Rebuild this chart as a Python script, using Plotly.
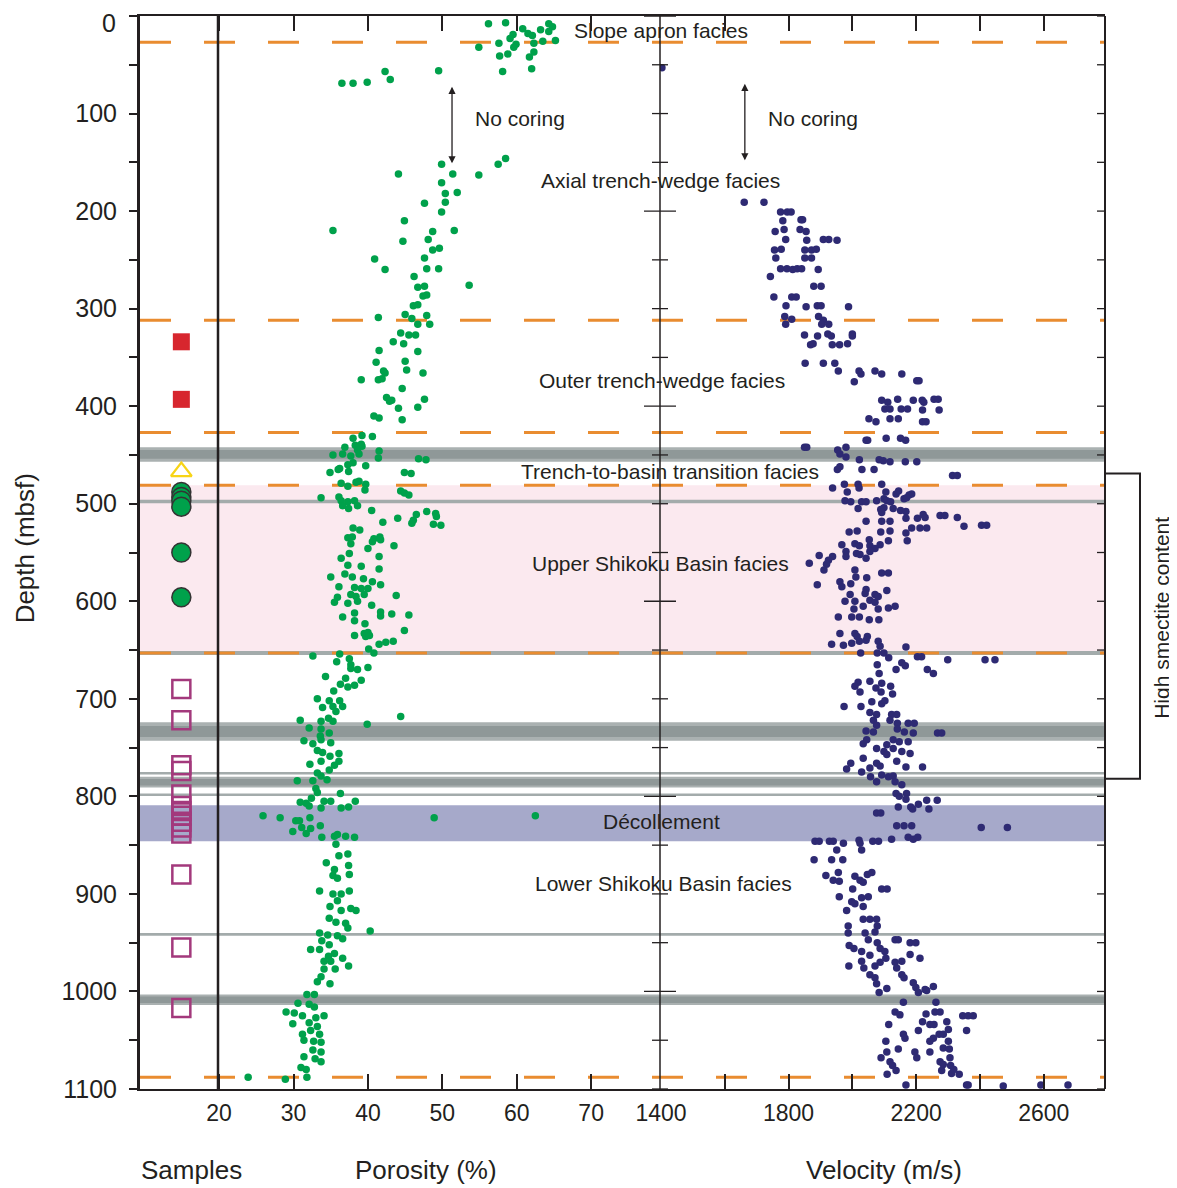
import plotly.graph_objects as go

# ---------------- data ----------------
por_depth = [
    8, 7, 13, 18, 20, 14, 8, 11, 16, 19, 23, 28, 29, 32, 32, 28, 26, 25, 37, 42, 39, 41, 54, 57, 56, 69, 69, 68, 57, 65,
    152, 162, 162, 163, 152, 146, 171, 182, 181, 191, 192, 201, 210, 220, 221, 220, 231, 229, 240, 238, 249, 248, 260, 259,
    259, 267, 276, 278, 277, 287, 286, 297, 296, 309, 306, 310, 307, 316, 316, 325, 327, 327, 334, 336, 343, 344, 355, 354,
    363, 364, 366, 366, 373, 373, 372, 382, 391, 395, 394, 393, 402, 401, 410, 412, 414, 433, 430, 431, 442, 440, 439, 441,
    445, 449, 449, 450, 451, 446, 453, 454, 455, 458, 460, 461, 464, 465, 467, 468, 468, 469, 479, 482, 478, 477, 480, 486,
    487, 489, 491, 494, 493, 497, 498, 497, 502, 505, 502, 507, 519, 515, 520, 511, 517, 508, 510, 513, 521, 522, 525, 527,
    535, 534, 536, 534,
    541, 546, 539, 537, 543, 554, 556, 551, 563, 564, 567, 575, 572, 575, 577, 580, 583, 585, 586, 587, 587, 594, 595, 593,
    593, 596, 601, 602, 600, 604, 611, 615, 613, 614, 612, 616, 620, 623, 630, 635, 633, 632, 636, 635, 644, 642, 641, 649,
    653, 656, 654, 662, 659, 665, 670, 669, 668, 677, 679, 681, 685, 686, 688, 692, 700, 702, 702, 709, 708, 708, 713, 718,
    722, 723, 720, 723, 726, 730, 731, 735, 738, 743, 746, 742, 745, 753, 755, 756, 759, 764, 764, 767, 768, 773, 776, 779,
    784, 784, 783, 792, 796, 797, 802, 806, 807, 805, 805, 805, 810, 812, 812, 811, 820, 822, 822, 820, 825, 825, 822, 836,
    832, 833, 830, 838, 842, 841, 839, 841, 842, 849, 861, 859, 868, 875, 871, 881, 884, 880, 897, 900, 900, 897, 907, 913,
    917, 915, 917, 925, 929, 930, 935, 938, 940, 942, 943, 946, 948, 952, 957, 957, 961, 966, 964, 969, 969, 977, 977, 974,
    985, 990, 992, 1003, 1003, 1012, 1013, 1016, 1021, 1022, 1025, 1025, 1027, 1033, 1032, 1036, 1040, 1044, 1044, 1050,
    1051, 1052, 1060, 1062, 1067, 1069, 1072, 1078, 1080, 1088, 1090, 1088,
]
por_value = [
    56.2, 58.5, 60.8, 61.5, 62.1, 63.2, 64.3, 64.8, 64.3, 59.5, 59.1, 57.6, 59.9, 59.6, 54.9, 62.3, 63.5, 65.2, 62.3, 61.7,
    58.8, 57.7, 62.0, 58.1, 49.5, 36.5, 38.0, 39.9, 42.3, 43.0,
    49.9, 51.4, 44.1, 54.9, 57.5, 58.5, 49.9, 50.4, 52.0, 50.4, 47.6, 49.9, 44.9, 35.3, 48.7, 51.6, 44.7, 48.1, 48.7, 49.6,
    40.9, 47.6, 42.3, 47.9, 49.5, 46.2, 53.6, 46.7, 47.6, 47.4, 47.9, 46.1, 46.7, 41.4, 45.0, 45.9, 47.9, 46.7, 48.3, 44.4,
    45.5, 46.4, 43.4, 44.8, 41.5, 46.7, 41.1, 45.0, 45.2, 42.1, 42.3, 47.4, 39.1, 41.4, 41.9, 44.6, 42.5, 42.9, 43.2, 47.6,
    44.1, 46.7, 40.8, 41.5, 44.6, 38.0, 39.2, 40.6, 36.9, 38.3, 39.1, 39.2, 38.6, 38.8, 36.6, 35.3, 37.7, 41.5, 41.4, 46.8,
    47.8, 38.0, 37.3, 39.7, 36.2, 36.0, 37.4, 34.9, 44.9, 45.8, 36.4, 37.3, 38.4, 38.8, 39.7, 39.6, 44.4, 44.9, 45.5, 33.7,
    36.1, 36.4, 37.3, 38.2, 36.6, 37.4, 38.6, 40.5, 42.0, 44.0, 45.9, 46.5, 46.1, 47.9, 49.1, 49.2, 48.8, 49.8, 38.0, 38.9,
    37.3, 37.9, 40.8, 41.6,
    37.7, 40.0, 40.6, 41.7, 43.5, 41.5, 36.4, 37.5, 37.3, 39.1, 41.5, 35.0, 36.9, 37.9, 39.4, 40.6, 41.7, 36.1, 38.2, 39.1,
    40.0, 43.8, 38.4, 37.7, 39.5, 35.9, 35.5, 37.3, 38.6, 40.5, 41.7, 41.7, 43.2, 45.5, 38.2, 36.6, 38.2, 39.6, 44.9, 38.2,
    39.5, 40.0, 39.7, 40.2, 41.5, 42.4, 43.4, 40.1, 40.8, 32.6, 36.2, 35.8, 37.5, 37.7, 38.6, 37.7, 40.0, 34.3, 37.0, 39.1,
    36.3, 38.2, 37.3, 35.4, 33.2, 34.8, 36.2, 33.9, 35.3, 36.6, 35.7, 44.4, 30.9, 33.7, 34.7, 35.3, 39.9, 32.1, 33.7, 34.8,
    33.6, 31.4, 32.6, 33.7, 35.0, 33.2, 33.9, 36.1, 34.9, 33.7, 36.1, 32.2, 35.5, 34.8, 33.2, 33.7, 32.6, 30.5, 34.5, 33.0,
    33.2, 36.3, 32.4, 30.9, 31.7, 34.1, 35.0, 38.3, 32.1, 33.7, 36.4, 37.4, 25.9, 28.2, 48.9, 62.5, 30.3, 30.8, 32.2, 29.9,
    31.1, 32.3, 33.6, 31.7, 33.8, 35.5, 35.9, 37.0, 38.2, 35.7, 36.1, 37.3, 34.4, 35.5, 37.4, 35.3, 35.9, 37.5, 33.5, 35.3,
    36.4, 37.5, 35.9, 34.9, 36.4, 37.7, 38.4, 34.8, 35.7, 37.0, 37.3, 40.3, 33.5, 34.6, 35.9, 36.6, 33.8, 34.8, 32.3, 33.5,
    35.5, 36.6, 34.7, 34.1, 35.0, 34.1, 35.6, 37.4, 33.7, 33.2, 34.9, 31.8, 32.8, 30.6, 32.1, 32.8, 29.0, 30.1, 31.2, 34.1,
    33.0, 29.9, 32.1, 33.2, 32.3, 31.2, 33.5, 31.4, 32.7, 33.7, 32.6, 33.7, 31.4, 32.9, 33.7, 31.0, 31.7, 23.9, 28.9, 31.8,
]

vel_depth = [
    53,
    191, 191, 201, 201, 201, 210, 209, 209, 221, 219, 219, 221, 229, 230, 229, 229, 230, 240, 239, 240, 240, 239, 248, 248,
    248, 259, 259, 260, 259, 259, 260, 267, 277, 277, 288, 288, 288, 297, 298, 297, 297, 298, 308, 311, 308, 312, 316, 316,
    316, 327, 328, 326, 328, 326, 328, 337, 336, 337, 337, 336, 356, 356, 356, 364, 364, 367, 364, 367, 367, 375, 374, 374,
    394, 396, 393, 394, 394, 396, 393, 393, 403, 403, 403, 403, 404, 404, 413, 416, 413, 413, 416, 416, 435, 435, 433, 433,
    435, 442, 442, 445, 442,
    449, 452, 455, 455, 456, 457, 457, 457, 462, 465, 465, 465, 471, 471, 484, 480, 480, 480, 488, 484, 488, 490, 487, 491,
    490, 495, 494, 497, 498, 498, 498, 497, 495, 497, 498, 505, 506, 504, 505, 507, 508, 509, 515, 515, 511, 514, 512, 512,
    514, 523, 522, 522, 518, 518, 518, 525, 525, 525, 530, 529, 528, 529, 528, 538, 538, 537, 541, 543, 542, 543, 542, 546,
    549, 551, 552, 549, 554, 553, 554, 556, 558, 561, 562, 568, 568, 571, 571, 575, 576, 580, 582, 583, 585, 588, 589, 593,
    592, 593, 595, 599, 600, 600, 601, 605, 607, 605, 608, 608, 616, 616, 616, 619, 619, 633, 633, 636, 636, 644, 645, 643,
    641, 640, 641, 646, 647, 653, 653, 653, 658, 657, 657, 660, 660, 660, 665, 663, 666, 670, 674, 670, 674, 683, 682, 684,
    687, 689, 687, 693, 695, 693, 708, 708, 703, 705, 702, 714, 716, 722, 716, 716, 722, 727, 725, 725, 725, 733, 734, 731,
    734, 735, 735, 735, 746, 742, 747, 742, 744, 744, 751, 754, 751, 754, 756, 761, 757,
    772, 766, 775, 771, 766, 769, 764, 770, 770, 780, 785, 778, 780, 779, 785, 788, 797, 800, 797, 803, 811, 811, 813, 808,
    804, 804, 813, 817, 817, 830, 830, 830, 832, 832, 846, 846, 846, 846, 848, 845, 848, 846, 846, 844, 842, 844, 842, 855,
    855, 865, 865, 865, 881, 878, 886, 887, 882, 886, 888, 880, 878, 895, 895, 895, 903, 908, 910, 904, 903, 913, 917, 926,
    926, 926, 933, 933, 940, 940, 939, 947, 950, 947, 947, 950, 950, 953, 956, 956, 959, 959, 963, 962, 966, 966, 969, 970,
    970, 969, 974, 976, 974, 976, 983, 986, 983, 986, 992, 991, 996, 998, 995, 1001, 997, 1001, 999, 1011, 1011, 1021, 1024,
    1023, 1021, 1021, 1025, 1025, 1025, 1034, 1031, 1034, 1034, 1031, 1039, 1040, 1040, 1044, 1048, 1044, 1044, 1048, 1051,
    1051, 1051, 1059, 1062, 1058, 1059, 1062, 1062, 1068, 1068, 1072, 1068, 1072, 1076, 1075, 1076, 1081, 1081, 1084, 1085,
    1085, 1080, 1096, 1096, 1096, 1097, 1096, 1096,
]
vel_value = [
    1403,
    1661, 1723, 1775, 1796, 1808, 1782, 1839, 1844, 1758, 1786, 1836, 1855, 1791, 1857, 1909, 1926, 1952, 1756, 1777, 1851,
    1872, 1887, 1760, 1851, 1872, 1775, 1795, 1813, 1827, 1841, 1893, 1743, 1879, 1902, 1754, 1810, 1824, 1792, 1855, 1890,
    1902, 1988, 1788, 1810, 1894, 1909, 1791, 1904, 1926, 1850, 1891, 1923, 1934, 2000, 2000, 1869, 1877, 1937, 1960, 1985,
    1852, 1909, 1945, 1956, 2021, 2027, 2071, 2092, 2155, 2006, 2202, 2209, 2092, 2111, 2142, 2191, 2219, 2224, 2256, 2269,
    2102, 2118, 2153, 2173, 2220, 2272, 2052, 2074, 2118, 2144, 2220, 2231, 2043, 2048, 2106, 2151, 2167, 1850, 1857, 1954,
    1980,
    1961, 1980, 2022, 2084, 2097, 2118, 2166, 2202, 1961, 1953, 2030, 2068, 2314, 2329, 1938, 1975, 2018, 2092, 1984, 2021,
    2105, 2137, 2145, 2178, 2186, 2162, 2170, 1977, 1995, 2029, 2043, 2076, 2099, 2108, 2120, 2018, 2089, 2099, 2128, 2151,
    2168, 2092, 2168, 2204, 2222, 2228, 2275, 2290, 2329, 2350, 2405, 2421, 2043, 2092, 2118, 2186, 2212, 2233, 2168, 1990,
    2015, 2089, 2118, 2172, 2113, 2053, 2008, 2022, 1967, 2055, 2087, 2071, 1980, 2013, 2024, 2055, 1938, 1896, 1980, 2043,
    1925, 1865, 1919, 1911, 2008, 2092, 2113, 2011, 2045, 1961, 1995, 1890, 1967, 2043, 2108, 1993, 2040, 2071, 2081, 2055,
    1977, 2008, 2071, 2034, 2113, 2134, 2081, 2005, 1956, 1998, 2022, 2053, 2083, 1961, 2008, 2015, 2047, 1935, 1972, 1998,
    2022, 2043, 2081, 2087, 2168, 2026, 2078, 2099, 2114, 2204, 2217, 2299, 2416, 2447, 2078, 2155, 2166, 2137, 2084, 2235,
    2254, 2018, 2055, 2092, 2008, 2074, 2120, 2024, 2126, 2090, 1974, 2027, 2061, 2092, 2102, 2055, 2076, 2066, 2123, 2139,
    2118, 2076, 2141, 2175, 2194, 2043, 2066, 2141, 2163, 2191, 2267, 2280, 2034, 2045, 2108, 2128, 2147, 2175, 2076, 2099,
    2128, 2155, 2181, 2034, 2108,
    1982, 1995, 2029, 2055, 2076, 2087, 2139, 2168, 2220, 2057, 2076, 2092, 2113, 2128, 2134, 2155, 2137, 2147, 2170, 2168,
    2144, 2183, 2189, 2207, 2233, 2266, 2240, 2076, 2089, 2139, 2162, 2186, 2404, 2486, 1883, 1896, 1928, 1940, 1972, 2021,
    2024, 2064, 2082, 2123, 2175, 2191, 2205, 1951, 2029, 1880, 1935, 1970, 1917, 1956, 1940, 1959, 2008, 2024, 2034, 2047,
    2061, 2001, 2092, 2109, 1959, 1998, 2008, 2029, 2050, 2034, 1982, 2034, 2055, 2076, 1987, 2078, 1987, 2040, 2071, 2050,
    2078, 2134, 2144, 2181, 2199, 1990, 2005, 2087, 2102, 2029, 2055, 2181, 2212, 2105, 2029, 2087, 2134, 2155, 1989, 2036,
    2071, 2139, 2055, 2071, 2155, 2162, 2076, 2191, 2199, 2228, 2254, 2084, 2108, 2207, 2233, 2160, 2262, 2134, 2149, 2231,
    2259, 2275, 2346, 2363, 2379, 2114, 2220, 2243, 2256, 2296, 2301, 2358, 2207, 2160, 2165, 2272, 2285, 2254, 2243, 2105,
    2301, 2144, 2196, 2285, 2304, 2108, 2243, 2202, 2090, 2275, 2306, 2118, 2126, 2285, 2308, 2137, 2280, 2311, 2335, 2109,
    2318, 2168, 2358, 2363, 2473, 2591, 2676,
]

samp_red_depth = [334, 393]
samp_yellow_depth = [467]
samp_green_depth = [488, 493, 497, 503, 550, 596]
samp_magenta_depth = [690, 722, 768, 774, 798, 810, 815, 820, 826, 832, 838, 880, 955, 1017]

dashed_depths = [27, 312, 427, 481, 653, 1088]
thick_gray_bands = [(442, 457), (724, 743), (780, 791), (1003, 1014)]
thin_gray_bands = [(496, 499.5), (651, 655), (775, 777.5), (797, 799.5), (940, 943)]
pink_band = (481, 653)
decollement_band = (809, 846)
smectite_bracket = (469, 782)

facies_labels = [
    ("Slope apron facies", 0.540, 15),
    ("Axial trench-wedge facies", 0.539, 169),
    ("Outer trench-wedge facies", 0.541, 374),
    ("Trench-to-basin transition facies", 0.549, 467),
    ("Upper Shikoku Basin facies", 0.539, 561),
    ("Décollement", 0.540, 826),
    ("Lower Shikoku Basin facies", 0.543, 889),
]

por_ticks = [20, 30, 40, 50, 60, 70]
vel_ticks = [1400, 1600, 1800, 2000, 2200, 2400, 2600]
vel_ticktext = ["1400", "", "1800", "", "2200", "", "2600"]
depth_ticks = list(range(0, 1101, 50))
# the "0" label sits at the very top edge; it is drawn as an annotation nudged down so it is not clipped
depth_ticktext = [str(d) if (d % 100 == 0 and d > 0) else "" for d in depth_ticks]

# ---------------- styling ----------------
FONT = "Liberation Sans, Arial, Helvetica, sans-serif"
INK = "#231f20"
GREEN = "#00a14b"
NAVY = "#2e2a73"
ORANGE = "#e98c30"
D_SAMP = 0.08083     # samples panel right edge (paper)
D_VEL = 0.53886      # velocity panel left edge (paper)
PLOT_W = 965.0

fig = go.Figure()

# samples
x_s = 0.53
fig.add_trace(go.Scatter(x=[x_s] * len(samp_red_depth), y=samp_red_depth, mode="markers",
                         marker=dict(symbol="square", size=17, color="#d7262e", line=dict(width=0)),
                         xaxis="x", yaxis="y", showlegend=False, hoverinfo="skip"))
fig.add_trace(go.Scatter(x=[x_s] * len(samp_yellow_depth), y=samp_yellow_depth, mode="markers",
                         marker=dict(symbol="triangle-up-open", size=18, color="#f7d417",
                                     line=dict(width=2.2, color="#f7d417")),
                         xaxis="x", yaxis="y", showlegend=False, hoverinfo="skip"))
fig.add_trace(go.Scatter(x=[x_s] * len(samp_green_depth), y=samp_green_depth, mode="markers",
                         marker=dict(symbol="circle", size=19, color=GREEN, line=dict(width=1.5, color="#333333")),
                         xaxis="x", yaxis="y", showlegend=False, hoverinfo="skip"))
fig.add_trace(go.Scatter(x=[x_s] * len(samp_magenta_depth), y=samp_magenta_depth, mode="markers",
                         marker=dict(symbol="square-open", size=18, color="#a3397c",
                                     line=dict(width=2.5, color="#a3397c")),
                         xaxis="x", yaxis="y", showlegend=False, hoverinfo="skip"))

# porosity
fig.add_trace(go.Scatter(x=por_value, y=por_depth, mode="markers",
                         marker=dict(size=7.5, color=GREEN, line=dict(width=0)),
                         xaxis="x2", yaxis="y", showlegend=False, hoverinfo="skip"))
# velocity
fig.add_trace(go.Scatter(x=vel_value, y=vel_depth, mode="markers",
                         marker=dict(size=7.5, color=NAVY, line=dict(width=0)),
                         xaxis="x3", yaxis="y", showlegend=False, hoverinfo="skip"))

shapes = []
# pink band
shapes.append(dict(type="rect", xref="paper", yref="y", x0=0, x1=1, y0=pink_band[0], y1=pink_band[1],
                   fillcolor="#fbe9ef", line=dict(width=0), layer="below"))
# gray bands
for a, b in thick_gray_bands:
    shapes.append(dict(type="rect", xref="paper", yref="y", x0=0, x1=1, y0=a, y1=b,
                       fillcolor="#aab1b1", line=dict(width=0), layer="below"))
    m = (a + b) / 2
    h = (b - a) * 0.3
    shapes.append(dict(type="rect", xref="paper", yref="y", x0=0, x1=1, y0=m - h, y1=m + h,
                       fillcolor="#8f9898", line=dict(width=0), layer="below"))
for a, b in thin_gray_bands:
    shapes.append(dict(type="rect", xref="paper", yref="y", x0=0, x1=1, y0=a, y1=b,
                       fillcolor="#a3abab", line=dict(width=0), layer="below"))
# decollement
shapes.append(dict(type="rect", xref="paper", yref="y", x0=0, x1=1, y0=decollement_band[0],
                   y1=decollement_band[1], fillcolor="#a6a9ca", line=dict(width=0), layer="below"))
# dashed facies boundaries
for d in dashed_depths:
    shapes.append(dict(type="line", xref="paper", yref="y", x0=0, x1=1, y0=d, y1=d,
                       line=dict(color=ORANGE, width=3, dash="31px,33px"), layer="below"))
# samples / porosity separator
shapes.append(dict(type="line", xref="paper", yref="paper", x0=D_SAMP, x1=D_SAMP, y0=0, y1=1,
                   line=dict(color=INK, width=2.5)))
# porosity / velocity separator axis with crossing ticks
shapes.append(dict(type="line", xref="paper", yref="paper", x0=D_VEL, x1=D_VEL, y0=0, y1=1,
                   line=dict(color=INK, width=1.5)))
for d in depth_ticks:
    half = (16 if d % 200 == 0 else 8) / PLOT_W
    shapes.append(dict(type="line", xref="paper", yref="y", x0=D_VEL - half, x1=D_VEL + half, y0=d, y1=d,
                       line=dict(color=INK, width=1.3)))
# right frame with inward ticks
shapes.append(dict(type="line", xref="paper", yref="paper", x0=1, x1=1, y0=0, y1=1,
                   line=dict(color=INK, width=2)))
for d in depth_ticks:
    shapes.append(dict(type="line", xref="paper", yref="y", x0=1 - 8 / PLOT_W, x1=1, y0=d, y1=d,
                       line=dict(color=INK, width=1.3)))
# smectite bracket
bx = 1 + 35 / PLOT_W
shapes.append(dict(type="path", xref="paper", yref="y",
                   path=(f"M 1,{smectite_bracket[0]} L {bx},{smectite_bracket[0]} "
                         f"L {bx},{smectite_bracket[1]} L 1,{smectite_bracket[1]}"),
                   line=dict(color=INK, width=2)))

annotations = []
for txt, xp, d in facies_labels:
    annotations.append(dict(text=txt, xref="paper", yref="y", x=xp, y=d, showarrow=False,
                            font=dict(family=FONT, size=21, color=INK), xanchor="center", yanchor="middle"))
annotations.append(dict(text="No coring", xref="paper", yref="y", x=0.3938, y=105, showarrow=False,
                        xanchor="center", yanchor="middle", font=dict(family=FONT, size=21, color=INK)))
annotations.append(dict(text="No coring", xref="paper", yref="y", x=0.6974, y=105, showarrow=False,
                        xanchor="center", yanchor="middle", font=dict(family=FONT, size=21, color=INK)))
# double arrows (no coring interval)
for xa, xv, y0, y1 in [("x2", 51.3, 71, 151), ("x3", 1663, 68, 148)]:
    annotations.append(dict(text="", xref=xa, yref="y", x=xv, y=y1, ax=xv, ay=y0, axref=xa, ayref="y",
                            showarrow=True, arrowhead=2, arrowside="end+start", arrowsize=1.1,
                            arrowwidth=1.3, arrowcolor=INK))
annotations.append(dict(text="High smectite content", xref="paper", yref="y", x=1.059, y=617,
                        xanchor="center", yanchor="middle",
                        showarrow=False, textangle=-90, font=dict(family=FONT, size=21, color=INK)))
annotations.append(dict(text="Depth (mbsf)", xref="paper", yref="paper", x=-0.119, y=0.504,
                        xanchor="center", yanchor="middle",
                        showarrow=False, textangle=-90, font=dict(family=FONT, size=26, color=INK)))
for txt, xp in [("Samples", 0.053), ("Porosity (%)", 0.2964), ("Velocity (m/s)", 0.771)]:
    annotations.append(dict(text=txt, xref="paper", yref="paper", x=xp, y=-0.0755, showarrow=False,
                            xanchor="center", yanchor="middle",
                            font=dict(family=FONT, size=26, color=INK)))
# top depth label "0"
annotations.append(dict(text=str(depth_ticks[0]), xref="paper", yref="y", x=-22 / PLOT_W, y=depth_ticks[0],
                        xanchor="right", yanchor="middle", yshift=-7, showarrow=False,
                        font=dict(family=FONT, size=25, color=INK)))

common_y = dict(range=[1100, 0], autorange=False, showgrid=False, zeroline=False)

# page body has an 8 px margin: figure sized so the plot lands where the reference has it
fig.update_layout(
    width=1169, height=1180,
    margin=dict(l=132, r=72, t=8, b=99, autoexpand=False),
    paper_bgcolor="white", plot_bgcolor="white",
    font=dict(family=FONT, color=INK),
    shapes=shapes, annotations=annotations,
    xaxis=dict(domain=[0, D_SAMP], range=[0, 1], showgrid=False, zeroline=False, showticklabels=False,
               ticks="", showline=True, linecolor=INK, linewidth=2, mirror=True, anchor="y", automargin=False),
    xaxis2=dict(domain=[D_SAMP, D_VEL], range=[19.85, 79.25], tickvals=por_ticks, showgrid=False,
                zeroline=False, ticks="inside", ticklen=15, tickwidth=1.5, tickcolor=INK, showline=True,
                linecolor=INK, linewidth=2, mirror="allticks", anchor="y", automargin=False,
                tickfont=dict(family=FONT, size=23, color=INK), ticklabelstandoff=2,
                ticklabeloverflow="allow"),
    xaxis3=dict(domain=[D_VEL, 1], range=[1397, 2792], tickvals=vel_ticks, ticktext=vel_ticktext,
                showgrid=False, zeroline=False, ticks="inside", ticklen=15, tickwidth=1.5, tickcolor=INK,
                showline=True, linecolor=INK, linewidth=2, mirror="allticks", anchor="y", automargin=False,
                tickfont=dict(family=FONT, size=23, color=INK), ticklabelstandoff=2,
                ticklabeloverflow="allow"),
    yaxis=dict(**common_y, domain=[0, 1], tickvals=depth_ticks, ticktext=depth_ticktext, ticks="outside",
               ticklen=8, tickwidth=1.5, tickcolor=INK, showline=True, linecolor=INK, linewidth=3,
               anchor="x", automargin=False, tickfont=dict(family=FONT, size=25, color=INK),
               ticklabelstandoff=7, ticklabeloverflow="allow"),
)

fig.write_html("out.html")
